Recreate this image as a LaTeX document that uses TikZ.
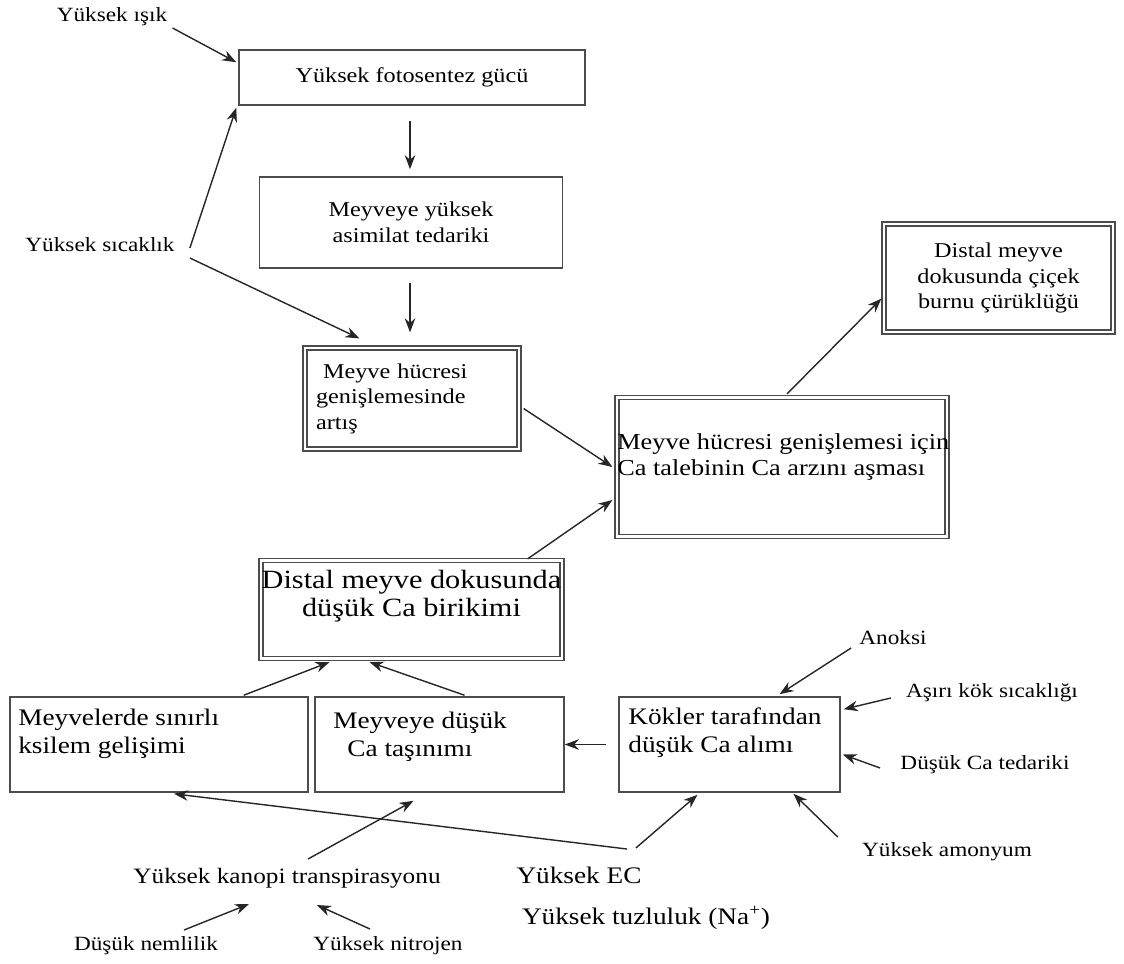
\documentclass[tikz,border=0pt]{standalone}
\usepackage{fontspec}
\setmainfont{Liberation Serif}[FakeStretch=1.15]
\usetikzlibrary{positioning,arrows.meta}

\tikzset{
  plainbox/.style={draw=black!70, line width=0.9pt, inner sep=0pt},
  dblbox/.style={draw=black!70, line width=0.7pt, double, double distance=1.6pt, inner sep=0pt},
  btxt/.style={font=\fontsize{12}{14.5}\selectfont, align=left, inner sep=0pt},
  bigtxt/.style={font=\fontsize{13.5}{16}\selectfont, align=left, inner sep=0pt},
  lbl/.style={font=\fontsize{11.5}{13}\selectfont, inner sep=0pt},
  biglbl/.style={font=\fontsize{13.5}{16}\selectfont, inner sep=0pt},
  arr/.style={-{Stealth[length=8pt,width=6pt]}, draw=black!85, line width=0.8pt},
}

\begin{document}
\begin{tikzpicture}[x=0.02cm,y=-0.02cm]
  \useasboundingbox (0,0) rectangle (1124,963);

  % upper chain
  \node[plainbox, btxt, align=center, minimum width=6.92cm, minimum height=1.1cm] (b1) at (412,77.5) {Yüksek fotosentez gücü};
  \node[plainbox, btxt, align=center, minimum width=6.06cm, minimum height=1.82cm] (b2) at (411,222.5) {Meyveye yüksek\\asimilat tedariki};
  \node[dblbox, btxt, text width=3.84cm, minimum width=4.28cm, minimum height=2.02cm] (b3) at (412,398.5) {\hspace*{4pt}Meyve hücresi\\genişlemesinde\\artış};
  \node[dblbox, btxt, align=center, minimum width=4.58cm, minimum height=2.16cm] (b4) at (998.5,278) {Distal meyve\\dokusunda çiçek\\burnu çürüklüğü};

  \node[dblbox, minimum width=6.6cm, minimum height=2.78cm] (b5) at (782,467) {};
  \node[btxt, font=\fontsize{13}{14.5}\selectfont, anchor=west] (t5) at (617,457) {Meyve hücresi genişlemesi için\\Ca talebinin Ca arzını aşması};

  \node[dblbox, minimum width=6.02cm, minimum height=1.96cm] (b6) at (411.5,609.5) {};
  \node[bigtxt, font=\fontsize{15}{16}\selectfont, align=center] (t6) at (411.5,596) {Distal meyve dokusunda\\düşük Ca birikimi};

  % lower row
  \node[plainbox, minimum width=5.96cm, minimum height=1.9cm] (b7) at (159,744.5) {};
  \node[bigtxt, anchor=west] (t7) at (18,734) {Meyvelerde sınırlı\\ksilem gelişimi};
  \node[plainbox, minimum width=4.98cm, minimum height=1.9cm] (b8) at (439.5,744.5) {};
  \node[bigtxt, anchor=west] (t8) at (333,737) {Meyveye düşük\\\hspace*{8pt}Ca taşınımı};
  \node[plainbox, minimum width=4.42cm, minimum height=1.9cm] (b9) at (729.5,744.5) {};
  \node[bigtxt, anchor=west] (t9) at (628,733) {Kökler tarafından\\düşük Ca alımı};

  % factors
  \node[lbl] (isik) at (112,17) {Yüksek ışık};
  \node[lbl] (sicaklik) at (100,245) {Yüksek sıcaklık};
  \node[lbl] (anoksi) at (893,638) {Anoksi};
  \node[lbl] (asiri) at (992,693) {Aşırı kök sıcaklığı};
  \node[lbl] (dusukca) at (985,765) {Düşük Ca tedariki};
  \node[lbl] (amonyum) at (947,852) {Yüksek amonyum};
  \node[biglbl] (ec) at (579,875) {Yüksek EC};
  \node[biglbl] (tuz) at (646,918) {Yüksek tuzluluk (Na\textsuperscript{+})};
  \node[lbl, font=\fontsize{12.5}{14}\selectfont] (kanopi) at (287,878) {Yüksek kanopi transpirasyonu};
  \node[lbl] (nemlilik) at (146,946) {Düşük nemlilik};
  \node[lbl] (nitrojen) at (388,946) {Yüksek nitrojen};

  % arrows
  \draw[arr] ([shift={(5,11)}]isik.east) -- ([shift={(-2,13)}]b1.north west);
  \draw[arr] ([shift={(15,3)}]sicaklik.east) -- ([shift={(-2,2)}]b1.south west);
  \draw[arr] ([shift={(15,13)}]sicaklik.east) -- ([shift={(55,-9)}]b3.north west);
  \draw[arr] ([shift={(-2,15)}]b1.south) -- ([shift={(-1,-7)}]b2.north);
  \draw[arr] ([shift={(-1,14)}]b2.south) -- ([shift={(-2,-15)}]b3.north);
  \draw[arr] ([shift={(4,10)}]b3.east) -- ([shift={(-4,0)}]b5.west);
  \draw[arr] ([shift={(-35,-1)}]b6.north east) -- ([shift={(-4,33)}]b5.west);
  \draw[arr] ([shift={(5,-3)}]b5.north) -- ([shift={(-2,-34)}]b4.south west);
  \draw[arr] ([shift={(-65,-1)}]b7.north east) -- ([shift={(-82,3)}]b6.south);
  \draw[arr] ([shift={(25,-1)}]b8.north) -- ([shift={(-42,3)}]b6.south);
  \draw[arr] ([shift={(-12,0)}]b9.west) -- (b8.east);
  \draw[arr] ([shift={(-8,10)}]anoksi.west) -- ([shift={(50,-2)}]b9.north);
  \draw[arr] ([shift={(-15,5)}]asiri.west) -- ([shift={(3,13)}]b9.north east);
  \draw[arr] ([shift={(-20,3)}]dusukca.west) -- ([shift={(2,10)}]b9.east);
  \draw[arr] ([shift={(-24,-15)}]amonyum.west) -- ([shift={(64,1)}]b9.south);
  \draw[arr] ([shift={(-6,-27)}]ec.east) -- ([shift={(-32,2)}]b9.south);
  \draw[arr] ([shift={(-15,-26)}]ec.east) -- ([shift={(15,1)}]b7.south);
  \draw[arr] ([shift={(21,-19)}]kanopi.center) -- ([shift={(-26,8)}]b8.south);
  \draw[arr] ([shift={(38,-16)}]nemlilik.center) -- ([shift={(-38,26)}]kanopi.center);
  \draw[arr] ([shift={(-18,-17)}]nitrojen.center) -- ([shift={(30,27)}]kanopi.center);
\end{tikzpicture}
\end{document}
